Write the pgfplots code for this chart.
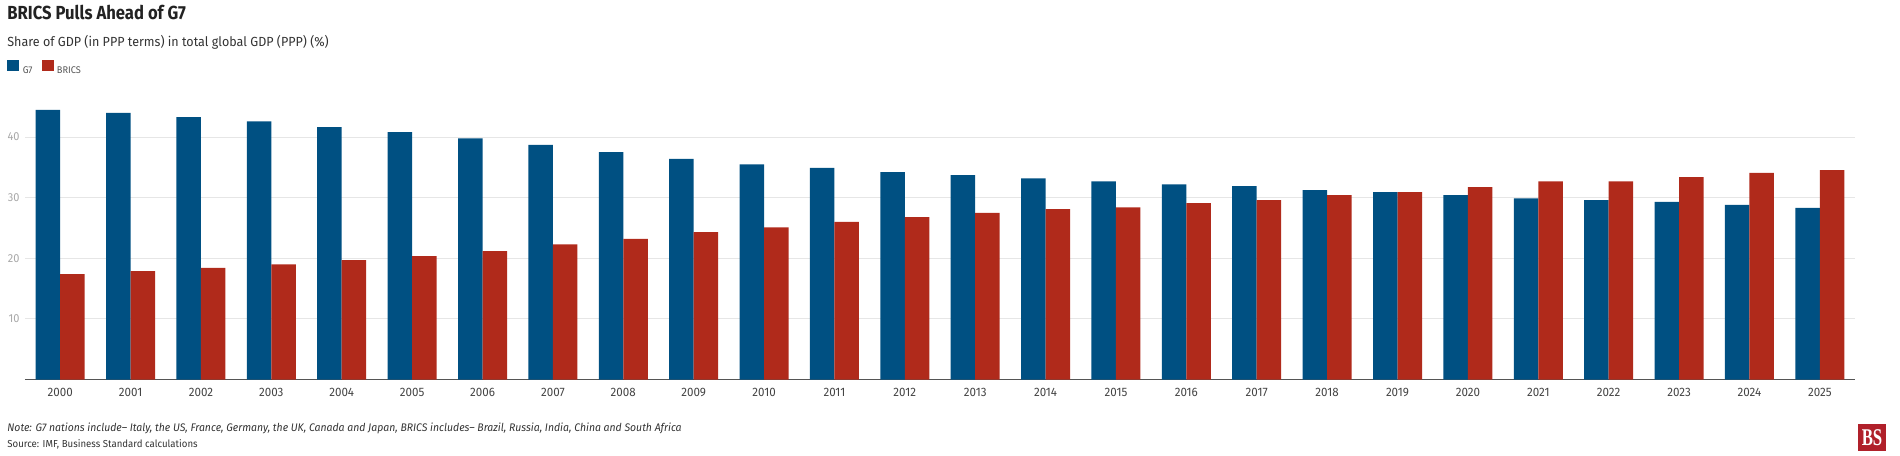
\documentclass[border=0pt]{standalone}
\usepackage{fontspec}
\setmainfont[FakeStretch=0.95]{Fira Sans}
\newfontfamily\titlefont[FakeStretch=0.88]{Fira Sans}
\newfontfamily\logofont{Liberation Serif}
\usepackage{pgfplots}
\usepackage{pgfplotstable}
\pgfplotsset{compat=1.18}
\definecolor{g7c}{HTML}{005082}
\definecolor{brc}{HTML}{B02A1B}
\definecolor{gridc}{HTML}{E6E6E6}
\definecolor{axisc}{HTML}{555555}
\definecolor{ytc}{HTML}{A8A8A8}
\definecolor{xtc}{HTML}{444444}
\definecolor{titc}{HTML}{222222}
\definecolor{subc}{HTML}{333333}
\definecolor{legc}{HTML}{555555}
\definecolor{logoc}{HTML}{B0202A}
\pgfplotstableread{
x g7 brics
0 44.5 17.4
1 44.0 17.9
2 43.3 18.4
3 42.6 19.0
4 41.65 19.7
5 40.8 20.35
6 39.8 21.2
7 38.7 22.3
8 37.5 23.2
9 36.4 24.3
10 35.5 25.1
11 34.9 26.0
12 34.2 26.8
13 33.7 27.5
14 33.2 28.1
15 32.7 28.4
16 32.2 29.1
17 31.9 29.6
18 31.25 30.4
19 30.9 30.9
20 30.4 31.75
21 29.9 32.7
22 29.6 32.7
23 29.3 33.4
24 28.8 34.1
25 28.3 34.55
}\data
\begin{document}
\begin{tikzpicture}
\useasboundingbox (0,0) rectangle (950pt,227.5pt);
\begin{axis}[
  at={(12.5pt,37.75pt)}, anchor=south west,
  width=915pt, height=139.4pt, scale only axis,
  xmin=-0.5, xmax=25.5, ymin=0, ymax=46,
  ybar=0pt, bar width=12.25pt,
  xtick={0,1,2,3,4,5,6,7,8,9,10,11,12,13,14,15,16,17,18,19,20,21,22,23,24,25},
  xticklabels={2000,2001,2002,2003,2004,2005,2006,2007,2008,2009,2010,2011,2012,2013,2014,2015,2016,2017,2018,2019,2020,2021,2022,2023,2024,2025},
  ytick={10,20,30,40},
  ymajorgrids,
  major grid style={draw=gridc, line width=0.5pt},
  major tick length=0pt,
  axis x line*=bottom, axis y line*=left,
  y axis line style={draw=none},
  x axis line style={draw=axisc, line width=0.6pt, -},
  xticklabel style={font=\fontsize{6.1}{7}\selectfont, text=xtc, inner sep=0pt, anchor=north},
  xticklabel shift=4.4pt,
  yticklabel style={font=\fontsize{5.8}{6}\selectfont, text=ytc, inner sep=0pt, anchor=east},
  yticklabel shift=2.5pt,
  /pgf/number format/assume math mode=true,
  legend columns=2,
  legend cell align=left,
  legend image code/.code={\fill[#1,draw=none] (0pt,-0.5pt) rectangle (6pt,5pt);},
  legend style={draw=none, fill=none, at={(axis description cs:0,1)}, anchor=west,
    xshift=-9pt, yshift=16.85pt, inner xsep=0pt, inner ysep=0pt,
    nodes={inner sep=0pt, text depth=0pt},
    font=\fontsize{4.85}{5.5}\selectfont, text=legc,
    /tikz/every odd column/.append style={column sep=1.7pt},
    /tikz/every even column/.append style={column sep=4.5pt}},
]
\addplot[fill=g7c, draw=none] table[x=x, y=g7]{\data};
\addplot[fill=brc, draw=none] table[x=x, y=brics]{\data};
\legend{G7,BRICS}
\end{axis}
\node[anchor=base west, inner sep=0pt, text=titc] at (3.5pt,217.75pt) {\titlefont\fontsize{9.45}{11}\selectfont\bfseries BRICS Pulls Ahead of G7};
\node[anchor=base west, inner sep=0pt, text=subc] at (3.5pt,204.15pt) {\fontsize{6.6}{8}\selectfont Share of GDP (in PPP terms) in total global GDP (PPP) (\%)};
\node[anchor=base west, inner sep=0pt, text=subc] at (3.5pt,12pt) {\fontsize{5.5}{6}\selectfont\itshape Note: G7 nations include– Italy, the US, France, Germany, the UK, Canada and Japan, BRICS includes– Brazil, Russia, India, China and South Africa};
\node[anchor=base west, inner sep=0pt, text=subc] at (3.5pt,3.65pt) {\fontsize{5.07}{6}\selectfont Source: IMF, Business Standard calculations};
\fill[logoc] (929pt,2pt) rectangle (943pt,15.5pt);
\node[text=white, inner sep=0pt, xscale=0.7] at (936pt,8.75pt) {\logofont\fontsize{12}{12}\selectfont\bfseries BS};
\end{tikzpicture}
\end{document}
